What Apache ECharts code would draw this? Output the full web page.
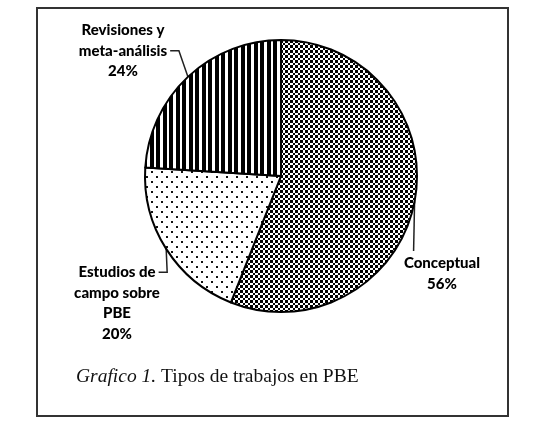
<!DOCTYPE html>
<html>
<head>
<meta charset="utf-8">
<script src="https://cdn.jsdelivr.net/npm/echarts@6/dist/echarts.min.js"></script>
<style>
html,body{margin:0;padding:0;background:#fff;}
#chart{width:547px;height:428px;}
</style>
</head>
<body>
<div id="chart"></div>
<script>
// ---- data ----
const categories = ['Conceptual', 'Estudios de\ncampo sobre\nPBE', 'Revisiones y\nmeta-análisis'];
const values = [56, 20, 24];
const caption = { italic: 'Grafico 1.', rest: ' Tipos de trabajos en PBE' };

// ---- patterns ----
function makeCanvas(w, h, draw) {
  const c = document.createElement('canvas');
  c.width = w; c.height = h;
  const ctx = c.getContext('2d');
  draw(ctx);
  return c;
}
const checker = makeCanvas(10, 10, ctx => {
  const sizes = [3, 2, 3, 2];
  let y = 0;
  for (let r = 0; r < 4; r++) {
    let x = 0;
    for (let q = 0; q < 4; q++) {
      ctx.fillStyle = ((r + q) % 2 === 0) ? '#000' : '#fff';
      ctx.fillRect(x, y, sizes[q], sizes[r]);
      x += sizes[q];
    }
    y += sizes[r];
  }
});
const dots = makeCanvas(10, 10, ctx => {
  ctx.fillStyle = '#fff'; ctx.fillRect(0, 0, 10, 10);
  ctx.fillStyle = '#111';
  ctx.fillRect(1, 1, 2, 2);
  ctx.fillRect(6, 6, 2, 2);
});
const stripes = makeCanvas(13, 4, ctx => {
  ctx.fillStyle = '#fff'; ctx.fillRect(0, 0, 13, 4);
  ctx.fillStyle = '#000';
  ctx.fillRect(0, 0, 4, 4);
  ctx.fillRect(7, 0, 4, 4);
});
const patterns = [checker, dots, stripes];

// label placement (layout only)
const labelFont = '900 15px Lato';
const labelPos = [
  { cx: 442, top: 253 },
  { cx: 117, top: 262 },
  { cx: 123, top: 20 }
];
const LH = 20.5;
const mctx = document.createElement('canvas').getContext('2d');
mctx.font = labelFont;
function w(t) { return mctx.measureText(t).width; }

const chart = echarts.init(document.getElementById('chart'), null, { renderer: 'canvas' });
const data = categories.map((name, i) => ({
  name: name,
  value: values[i],
  itemStyle: { color: { image: patterns[i], repeat: 'repeat' } }
}));

chart.setOption({
  backgroundColor: '#fff',
  animation: false,
  title: {
    text: '{i|' + caption.italic + '}{n|' + caption.rest + '}',
    left: 71, top: 362,
    textStyle: {
      fontWeight: 'normal',
      rich: {
        i: { fontFamily: 'Liberation Serif', fontStyle: 'italic', fontWeight: 'normal', fontSize: 19.5, color: '#111' },
        n: { fontFamily: 'Liberation Serif', fontWeight: 'normal', fontSize: 19.5, color: '#111' }
      }
    }
  },
  graphic: [{
    type: 'rect', shape: { x: 37, y: 8, width: 471, height: 408 },
    style: { fill: 'none', stroke: '#333', lineWidth: 2 }, silent: true, z: 100
  }],
  series: [{
    type: 'pie',
    center: [281, 176],
    radius: 136,
    startAngle: 90,
    clockwise: true,
    data: data,
    itemStyle: { borderColor: '#000', borderWidth: 2 },
    label: {
      show: true,
      formatter: p => p.name + '\n' + p.value + '%',
      fontFamily: 'Lato', fontWeight: 900, fontSize: 15, color: '#000',
      lineHeight: LH, align: 'center'
    },
    labelLine: { show: true, length: 20, length2: 6, minTurnAngle: 0, lineStyle: { color: '#222', width: 1.5 } },
    labelLayout: function (params) {
      const i = params.dataIndex;
      const pos = labelPos[i];
      const edge = params.labelLinePoints ? params.labelLinePoints[0] : null;
      const out = { x: pos.cx, y: pos.top, align: 'center', verticalAlign: 'top' };
      if (edge) {
        if (i === 0) {
          out.labelLinePoints = [edge, [edge[0] - 1, pos.top - 2]];
        } else if (i === 1) {
          const ly = pos.top + LH / 2;
          const rx = pos.cx + w('Estudios de') / 2 + 3;
          out.labelLinePoints = [edge, [edge[0] + 1, ly], [rx, ly]];
        } else {
          const ly = pos.top + LH * 1.5;
          const rx = pos.cx + w('meta-análisis') / 2 + 3;
          out.labelLinePoints = [edge, [edge[0] - 9, ly], [rx, ly]];
        }
      }
      return out;
    }
  }]
});
</script>
</body>
</html>
